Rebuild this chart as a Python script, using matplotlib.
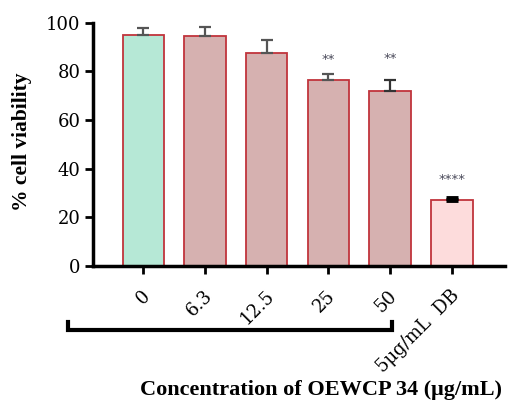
import matplotlib
matplotlib.use("Agg")
import matplotlib.pyplot as plt
import matplotlib.transforms as mtransforms

labels = ["0", "6.3", "12.5", "25", "50", "5\u03bcg/mL  DB"]
viability = [95.2, 94.4, 87.8, 76.5, 72.0, 26.9]
sem = [2.6, 4.0, 5.3, 2.4, 4.4, 1.2]
fills = ["#b6e8d6", "#d6b1b0", "#d6b1b0", "#d6b1b0", "#d6b1b0", "#fddcdc"]
err_colors = ["#555555", "#555555", "#555555", "#555555", "#333333", "#000000"]
stars = {3: "**", 4: "**", 5: "****"}
star_heights = {3: 85.0, 4: 85.5, 5: 35.5}

plt.rcParams['font.family'] = ['Liberation Serif', 'DejaVu Serif']

fig = plt.figure(figsize=(5.1, 4.01), dpi=100)
ax = fig.add_axes([0.182, 0.337, 0.808, 0.606])

x = list(range(len(labels)))
ax.bar(x, viability, width=0.67, color=fills, edgecolor="#c0343c",
       linewidth=1.3, zorder=2)
for i in x:
    ax.errorbar(i, viability[i], yerr=[[0], [sem[i]]], fmt="none",
                ecolor=err_colors[i], elinewidth=1.6 if i < 5 else 3,
                capsize=4, capthick=1.6 if i < 5 else 3.5, zorder=3)
for i, s in stars.items():
    ax.text(i, star_heights[i], s, ha="center", va="center",
            fontsize=9.5, color="#4a4a5a", family="DejaVu Sans")

ax.set_xlim(-0.82, 5.86)
ax.set_ylim(0, 100)
ax.set_yticks([0, 20, 40, 60, 80, 100])
ax.set_yticklabels(["0", "20", "40", "60", "80", "100"],
                   family="DejaVu Serif", fontsize=13)
ax.set_xticks(x)
ax.set_xticklabels(labels, rotation=45, ha="right", rotation_mode="anchor",
                   family="DejaVu Serif", fontsize=13)
ax.tick_params(axis="y", width=2, length=6, pad=3)
ax.tick_params(axis="x", width=2, length=6, pad=9)
for lab in ax.get_xticklabels():
    lab.set_transform(lab.get_transform() + mtransforms.ScaledTranslation(
        -0.02, 0, fig.dpi_scale_trans))

ax.spines["top"].set_visible(False)
ax.spines["right"].set_visible(False)
ax.spines["left"].set_linewidth(2.5)
ax.spines["bottom"].set_linewidth(2.5)

fig.text(0.043, 0.646, "% cell viability", rotation=90, ha="center",
         va="center", fontsize=15.5, fontweight="bold")

# bracket under the extract concentrations
trans = mtransforms.blended_transform_factory(ax.transData, ax.transAxes)
ax.plot([-1.22, -1.22, 4.03, 4.03], [-0.23, -0.263, -0.263, -0.23],
        transform=trans, color="black", lw=3, clip_on=False,
        solid_joinstyle="miter")

fig.text(0.63, 0.002, "Concentration of OEWCP 34 (\u03bcg/mL)", ha="center",
         va="bottom", fontsize=16, fontweight="bold")

fig.savefig("out.png", dpi=100)
